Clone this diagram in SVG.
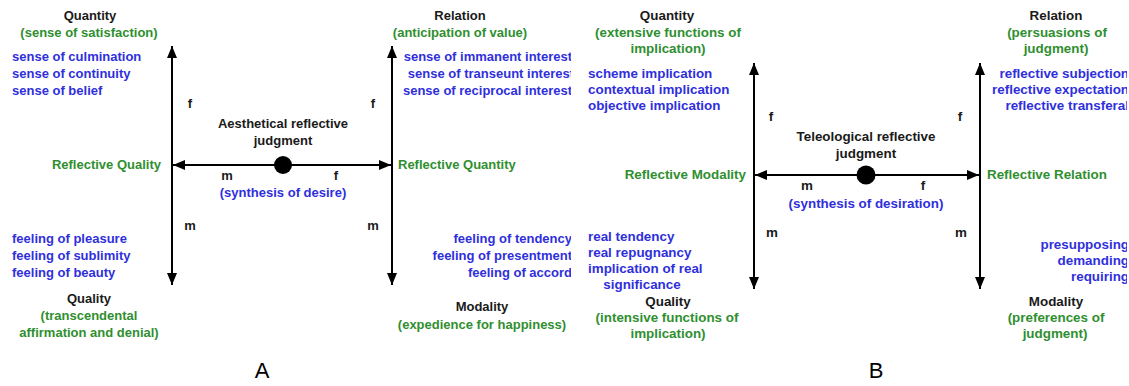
<svg xmlns="http://www.w3.org/2000/svg" width="1129" height="386" viewBox="0 0 1129 386">
  <style>
    text { font-family: "Liberation Sans", Arial, sans-serif; font-size: 13px; font-weight: bold; }
    #panelB text { font-size: 13.4px; }
    .k { fill: #1a1a1a; }
    .g { fill: #2f8f2f; }
    .b { fill: #2f2fdc; }
    .c { text-anchor: middle; }
    .e { text-anchor: end; }
    .axis { stroke: #000; stroke-width: 2; fill: none; }
    text.cap, #panelB text.cap { font-family: "Liberation Sans", Arial, sans-serif; font-size: 22px; font-weight: normal; fill: #000; text-anchor: middle; }
  </style>
  <defs>
    <marker id="arrow" viewBox="0 0 12 10" refX="12" refY="5" markerWidth="12" markerHeight="10" markerUnits="userSpaceOnUse" orient="auto-start-reverse">
      <path d="M0,0 L12,5 L0,10 Z" fill="#000"/>
    </marker>
    <clipPath id="clipA"><rect x="0" y="0" width="571" height="386"/></clipPath>
    <clipPath id="clipB"><rect x="571" y="0" width="556" height="386"/></clipPath>
  </defs>
  <rect width="1129" height="386" fill="#fff"/>

  <!-- Panel A: aesthetical reflective judgment -->
  <g id="panelA" clip-path="url(#clipA)">
    <g id="connectorsA">
      <line class="axis" x1="172" y1="285" x2="172" y2="46" marker-end="url(#arrow)"/>
      <line class="axis" x1="172" y1="46" x2="172" y2="285" marker-end="url(#arrow)"/>
      <line class="axis" x1="392" y1="285" x2="392" y2="46" marker-end="url(#arrow)"/>
      <line class="axis" x1="392" y1="46" x2="392" y2="285" marker-end="url(#arrow)"/>
      <line class="axis" x1="283" y1="165" x2="173" y2="165" marker-end="url(#arrow)"/>
      <line class="axis" x1="283" y1="165" x2="391" y2="165" marker-end="url(#arrow)"/>
      <text class="k c" x="190" y="108">f</text>
      <text class="k c" x="373" y="108">f</text>
      <text class="k c" x="227" y="180">m</text>
      <text class="k c" x="336" y="180">f</text>
      <text class="k c" x="190" y="230">m</text>
      <text class="k c" x="373" y="230">m</text>
    </g>
    <g id="centerA">
      <circle cx="283" cy="165" r="9" fill="#000"/>
      <text class="k c" x="283" y="128">Aesthetical reflective</text>
      <text class="k c" x="283" y="145">judgment</text>
      <text class="b c" x="283" y="197">(synthesis of desire)</text>
    </g>
    <g id="quantityA">
      <text class="k c" x="90" y="20">Quantity</text>
      <text class="g c" x="89" y="37">(sense of satisfaction)</text>
      <text class="b" x="12" y="61">sense of culmination</text>
      <text class="b" x="12" y="78">sense of continuity</text>
      <text class="b" x="12" y="95">sense of belief</text>
    </g>
    <g id="relationA">
      <text class="k c" x="460" y="20">Relation</text>
      <text class="g c" x="460" y="37">(anticipation of value)</text>
      <text class="b e" x="572" y="61">sense of immanent interest</text>
      <text class="b e" x="574" y="78">sense of transeunt interest</text>
      <text class="b e" x="572" y="95">sense of reciprocal interest</text>
    </g>
    <g id="reflectiveQualityA">
      <text class="g e" x="161" y="169">Reflective Quality</text>
    </g>
    <g id="reflectiveQuantityA">
      <text class="g" x="398" y="169">Reflective Quantity</text>
    </g>
    <g id="qualityA">
      <text class="b" x="12" y="243">feeling of pleasure</text>
      <text class="b" x="12" y="260">feeling of sublimity</text>
      <text class="b" x="12" y="277">feeling of beauty</text>
      <text class="k c" x="89" y="303">Quality</text>
      <text class="g c" x="89" y="320">(transcendental</text>
      <text class="g c" x="89" y="337">affirmation and denial)</text>
    </g>
    <g id="modalityA">
      <text class="b e" x="572" y="243">feeling of tendency</text>
      <text class="b e" x="572" y="260">feeling of presentment</text>
      <text class="b e" x="572" y="277">feeling of accord</text>
      <text class="k c" x="482" y="311">Modality</text>
      <text class="g c" x="482" y="329">(expedience for happiness)</text>
    </g>
    <text id="labelA" class="cap" x="262" y="378">A</text>
  </g>

  <!-- Panel B: teleological reflective judgment -->
  <g id="panelB" clip-path="url(#clipB)">
    <g id="connectorsB">
      <line class="axis" x1="754" y1="289" x2="754" y2="63" marker-end="url(#arrow)"/>
      <line class="axis" x1="754" y1="63" x2="754" y2="289" marker-end="url(#arrow)"/>
      <line class="axis" x1="980" y1="289" x2="980" y2="63" marker-end="url(#arrow)"/>
      <line class="axis" x1="980" y1="63" x2="980" y2="289" marker-end="url(#arrow)"/>
      <line class="axis" x1="866" y1="175" x2="755" y2="175" marker-end="url(#arrow)"/>
      <line class="axis" x1="866" y1="175" x2="979" y2="175" marker-end="url(#arrow)"/>
      <text class="k c" x="771" y="121">f</text>
      <text class="k c" x="960" y="121">f</text>
      <text class="k c" x="807" y="190">m</text>
      <text class="k c" x="923" y="190">f</text>
      <text class="k c" x="772" y="237">m</text>
      <text class="k c" x="961" y="237">m</text>
    </g>
    <g id="centerB">
      <circle cx="866" cy="175" r="9.5" fill="#000"/>
      <text class="k c" x="866" y="141">Teleological reflective</text>
      <text class="k c" x="866" y="158">judgment</text>
      <text class="b c" x="866" y="208">(synthesis of desiration)</text>
    </g>
    <g id="quantityB">
      <text class="k c" x="667" y="20">Quantity</text>
      <text class="g c" x="668" y="37">(extensive functions of</text>
      <text class="g c" x="668" y="53">implication)</text>
      <text class="b" x="588" y="78">scheme implication</text>
      <text class="b" x="588" y="94">contextual implication</text>
      <text class="b" x="588" y="110">objective implication</text>
    </g>
    <g id="relationB">
      <text class="k c" x="1056" y="20">Relation</text>
      <text class="g c" x="1057" y="37">(persuasions of</text>
      <text class="g c" x="1056" y="53">judgment)</text>
      <text class="b e" x="1129" y="78">reflective subjection</text>
      <text class="b e" x="1129" y="94">reflective expectation</text>
      <text class="b e" x="1129" y="110">reflective transferal</text>
    </g>
    <g id="reflectiveModalityB">
      <text class="g e" x="746" y="179">Reflective Modality</text>
    </g>
    <g id="reflectiveRelationB">
      <text class="g" x="987" y="179">Reflective Relation</text>
    </g>
    <g id="qualityB">
      <text class="b" x="588" y="241">real tendency</text>
      <text class="b" x="588" y="257">real repugnancy</text>
      <text class="b" x="588" y="273">implication of real</text>
      <text class="b c" x="642" y="289">significance</text>
      <text class="k c" x="668" y="306">Quality</text>
      <text class="g c" x="667" y="322">(intensive functions of</text>
      <text class="g c" x="668" y="338">implication)</text>
    </g>
    <g id="modalityB">
      <text class="b e" x="1129" y="249">presupposing</text>
      <text class="b e" x="1129" y="265">demanding</text>
      <text class="b e" x="1129" y="281">requiring</text>
      <text class="k c" x="1056" y="306">Modality</text>
      <text class="g c" x="1056" y="322">(preferences of</text>
      <text class="g c" x="1055" y="338">judgment)</text>
    </g>
    <text id="labelB" class="cap" x="876" y="378">B</text>
  </g>
</svg>
